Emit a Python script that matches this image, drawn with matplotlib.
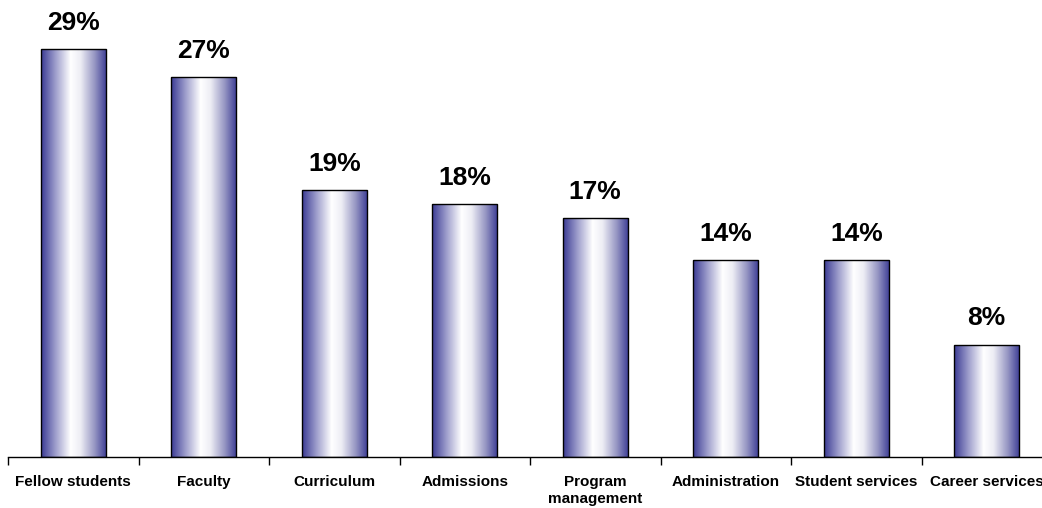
import matplotlib
matplotlib.use("Agg")
import matplotlib.pyplot as plt
import numpy as np
from matplotlib.colors import LinearSegmentedColormap
from matplotlib.patches import Rectangle

categories = ["Fellow students", "Faculty", "Curriculum", "Admissions",
              "Program\nmanagement", "Administration", "Student services",
              "Career services"]
values = [29, 27, 19, 18, 17, 14, 14, 8]
labels = ["29%", "27%", "19%", "18%", "17%", "14%", "14%", "8%"]

plt.rcParams['font.family'] = ['Liberation Sans', 'DejaVu Sans']

edge = (0.23, 0.23, 0.58)
cmap = LinearSegmentedColormap.from_list(
    "barfill", [(0.0, edge), (0.22, (0.62, 0.62, 0.80)), (0.45, (1, 1, 1)),
                (0.6, (0.93, 0.93, 0.96)), (0.82, (0.58, 0.58, 0.76)), (1.0, edge)])

fig = plt.figure(figsize=(10.42, 5.08), dpi=100)
# axes spill past the right edge like the original
ax = fig.add_axes([8 / 1042, 51 / 508, 1044 / 1042, 450 / 508])

x = np.arange(len(values))
w = 0.5
grad = np.linspace(0, 1, 256).reshape(1, -1)
for xi, v, lab in zip(x, values, labels):
    im = ax.imshow(grad, cmap=cmap, aspect="auto",
                   extent=(xi - w / 2, xi + w / 2, 0, v), zorder=2)
    rect = Rectangle((xi - w / 2, 0), w, v, fill=False, edgecolor="black",
                     linewidth=1.0, zorder=3)
    ax.add_patch(rect)
    im.set_clip_path(rect)
    ax.text(xi, v + 1.0, lab, ha="center", va="bottom", fontsize=19,
            fontweight="bold")

ax.set_xlim(-0.5, len(values) - 0.5)
ax.set_ylim(0, 32)

for s in ["top", "right", "left"]:
    ax.spines[s].set_visible(False)
ax.spines["bottom"].set_linewidth(1.0)
ax.set_yticks([])

ax.set_xticks(np.arange(len(values) + 1) - 0.5)
ax.set_xticklabels([])
ax.tick_params(axis="x", which="major", length=6, width=1, direction="out")
ax.set_xticks(x, minor=True)
ax.set_xticklabels(categories, minor=True, fontsize=11, fontweight="bold",
                   va="top", ha="center", linespacing=1.3)
ax.tick_params(axis="x", which="minor", length=0, pad=13)

fig.savefig("out.png", dpi=100)
